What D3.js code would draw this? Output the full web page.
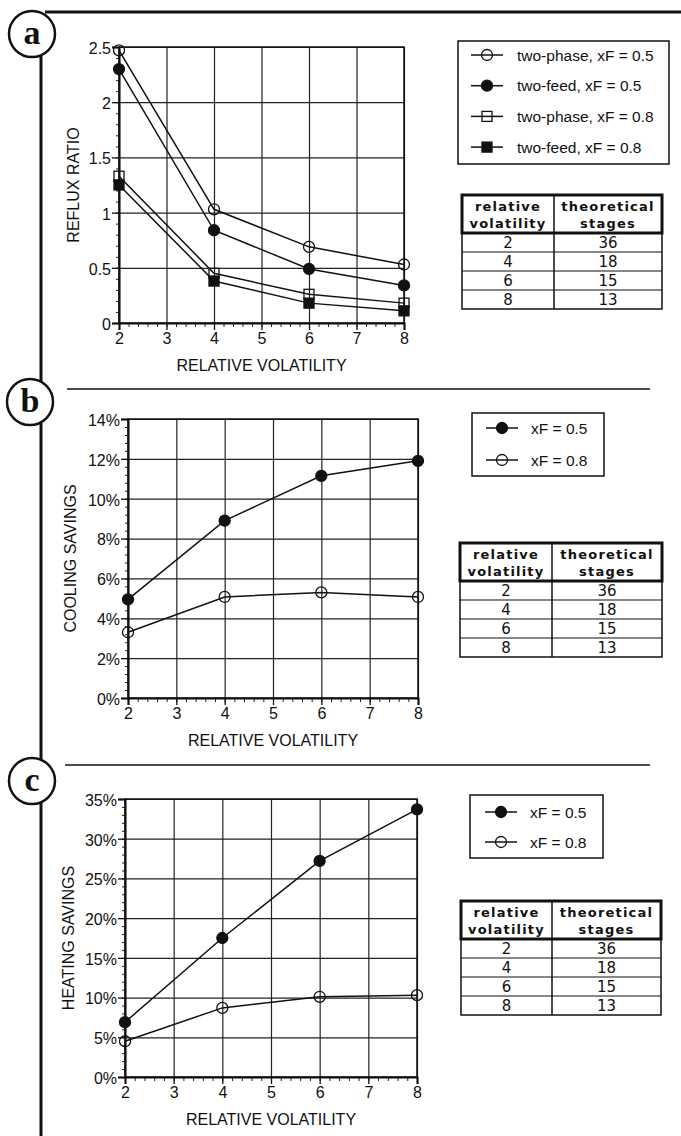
<!DOCTYPE html>
<html>
  <head>
    <style>
      body { margin: 0; background: #fff; }
      text { font-family: "Liberation Sans", Arial, sans-serif; fill: #111; }
      .tbl text { font-family: "DejaVu Sans", sans-serif; }
    </style>
    <script src="https://d3js.org/d3.v7.min.js"></script>
  </head>
  <body>
    <svg width="681" height="1136"></svg>
    <script>
      // data
      var volatility = [2, 4, 6, 8];
      var xTicks = [2, 3, 4, 5, 6, 7, 8];

      var refluxTwoPhase05 = [2.47, 1.03, 0.69, 0.53];
      var refluxTwoFeed05 = [2.3, 0.84, 0.49, 0.34];
      var refluxTwoPhase08 = [1.33, 0.45, 0.26, 0.18];
      var refluxTwoFeed08 = [1.25, 0.38, 0.18, 0.11];
      var refluxTicks = [0, 0.5, 1, 1.5, 2, 2.5];

      var coolingXF05 = [4.95, 8.9, 11.15, 11.9];
      var coolingXF08 = [3.3, 5.07, 5.3, 5.07];
      var coolingTicks = [0, 2, 4, 6, 8, 10, 12, 14];

      var heatingXF05 = [6.9, 17.5, 27.2, 33.7];
      var heatingXF08 = [4.5, 8.7, 10.1, 10.3];
      var heatingTicks = [0, 5, 10, 15, 20, 25, 30, 35];

      var tableVolatility = ["2", "4", "6", "8"];
      var tableStages = ["36", "18", "15", "13"];

      var svg = d3.select("svg");

      // frame lines and panel badges
      svg.append("line").attr("x1", 45).attr("x2", 681).attr("y1", 12).attr("y2", 12)
        .attr("stroke", "#111").attr("stroke-width", 3);
      svg.append("line").attr("x1", 41).attr("x2", 41).attr("y1", 55).attr("y2", 1136)
        .attr("stroke", "#111").attr("stroke-width", 3);
      svg.append("line").attr("x1", 67).attr("x2", 650).attr("y1", 389).attr("y2", 389)
        .attr("stroke", "#111").attr("stroke-width", 1.5);
      svg.append("line").attr("x1", 65).attr("x2", 650).attr("y1", 765).attr("y2", 765)
        .attr("stroke", "#111").attr("stroke-width", 1.5);

      [["a", 32, 34], ["b", 30, 402], ["c", 32, 781]].forEach(function (b) {
        svg.append("circle").attr("cx", b[1]).attr("cy", b[2]).attr("r", 23)
          .attr("fill", "#fff").attr("stroke", "#111").attr("stroke-width", 2.5);
        svg.append("text").attr("x", b[1]).attr("y", b[2] + 10).attr("text-anchor", "middle")
          .style("font-family", "'Liberation Serif', serif").style("font-weight", "bold")
          .style("font-size", "34px").text(b[0]);
      });

      function marker(g, kind, cx, cy) {
        var filled = kind == "dot" || kind == "square";
        if (kind == "dot" || kind == "ring") {
          g.append("circle").attr("cx", cx).attr("cy", cy).attr("r", 5.5)
            .attr("fill", filled ? "#111" : "none").attr("stroke", "#111").attr("stroke-width", 1.3);
        } else {
          g.append("rect").attr("x", cx - 5).attr("y", cy - 5).attr("width", 10).attr("height", 10)
            .attr("fill", filled ? "#111" : "none").attr("stroke", "#111").attr("stroke-width", 1.3);
        }
      }

      function panel(p) {
        var x = d3.scaleLinear().domain([2, 8]).range([p.left, p.right]);
        var y = d3.scaleLinear().domain([0, p.ticks[p.ticks.length - 1]]).range([p.bottom, p.top]);
        var g = svg.append("g");
        var h = p.bottom - p.top, w = p.right - p.left;

        // grid
        g.append("g").attr("transform", "translate(0," + p.bottom + ")")
          .call(d3.axisBottom(x).tickValues(xTicks).tickSize(-h).tickFormat(""))
          .call(function (s) { s.select(".domain").remove(); s.selectAll("line").attr("stroke", "#222").attr("stroke-width", 1.2); });
        g.append("g").attr("transform", "translate(" + p.left + ",0)")
          .call(d3.axisLeft(y).tickValues(p.ticks).tickSize(-w).tickFormat(""))
          .call(function (s) { s.select(".domain").remove(); s.selectAll("line").attr("stroke", "#222").attr("stroke-width", 1.2); });

        // minor ticks
        g.append("g").attr("transform", "translate(0," + p.bottom + ")")
          .call(d3.axisBottom(x).tickValues(d3.range(2, 8.01, 0.2)).tickSize(4).tickFormat(""))
          .call(function (s) { s.select(".domain").remove(); s.selectAll("line").attr("stroke", "#222"); });
        g.append("g").attr("transform", "translate(" + p.left + ",0)")
          .call(d3.axisLeft(y).tickValues(d3.range(0, y.domain()[1] + 1e-9, p.minor)).tickSize(3).tickFormat(""))
          .call(function (s) { s.select(".domain").remove(); s.selectAll("line").attr("stroke", "#222"); });

        // major axes with labels
        var xa = g.append("g").attr("transform", "translate(0," + p.bottom + ")")
          .call(d3.axisBottom(x).tickValues(xTicks).tickSize(7).tickPadding(3).tickFormat(d3.format("d")));
        var ya = g.append("g").attr("transform", "translate(" + p.left + ",0)")
          .call(d3.axisLeft(y).tickValues(p.ticks).tickSize(7).tickPadding(1).tickFormat(p.fmt));
        [xa, ya].forEach(function (a) {
          a.select(".domain").attr("stroke", "#111").attr("stroke-width", 2);
          a.selectAll("line").attr("stroke", "#111").attr("stroke-width", 1.3);
          a.selectAll("text").style("font-size", "16px").attr("fill", "#111");
        });
        ya.selectAll("text").attr("dy", "0.4em");

        g.append("rect").attr("x", p.left).attr("y", p.top).attr("width", w).attr("height", h)
          .attr("fill", "none").attr("stroke", "#111").attr("stroke-width", 1.5);

        g.append("text").attr("x", (p.left + p.right) / 2).attr("y", p.bottom + 48)
          .attr("text-anchor", "middle").style("font-size", "16px").text("RELATIVE VOLATILITY");
        g.append("text").attr("transform", "translate(" + p.ytx + "," + ((p.top + p.bottom) / 2) + ") rotate(-90)")
          .attr("text-anchor", "middle").style("font-size", "16px").text(p.ytitle);

        var line = d3.line().x(function (d, i) { return x(volatility[i]); }).y(function (d) { return y(d); });
        p.series.forEach(function (s) {
          g.append("path").datum(s.values).attr("d", line).attr("fill", "none")
            .attr("stroke", "#111").attr("stroke-width", 1.5);
          s.values.forEach(function (v, i) { marker(g, s.kind, x(volatility[i]), y(v)); });
        });

        // legend
        var lg = p.legend;
        g.append("rect").attr("x", lg.x).attr("y", lg.y).attr("width", lg.w).attr("height", lg.h)
          .attr("fill", "#fff").attr("stroke", "#111").attr("stroke-width", 1.5);
        p.series.forEach(function (s, i) {
          var ry = lg.y + lg.first + i * lg.step;
          g.append("line").attr("x1", lg.x + lg.mx - 16).attr("x2", lg.x + lg.mx + 16)
            .attr("y1", ry).attr("y2", ry).attr("stroke", "#111").attr("stroke-width", 1.5);
          marker(g, s.kind, lg.x + lg.mx, ry);
          g.append("text").attr("x", lg.x + lg.tx).attr("y", ry + 5.5).style("font-size", "15.5px").text(s.name);
        });

        // stages table
        var t = p.table, tg = g.append("g").attr("class", "tbl");
        var rowH = 19, headH = 38;
        var rows = tableVolatility.length;
        tg.append("rect").attr("x", t.x).attr("y", t.y).attr("width", t.w).attr("height", headH + rows * rowH)
          .attr("fill", "#fff").attr("stroke", "#111").attr("stroke-width", 1.5);
        tg.append("rect").attr("x", t.x).attr("y", t.y).attr("width", t.w).attr("height", headH)
          .attr("fill", "none").attr("stroke", "#111").attr("stroke-width", 3);
        tg.append("line").attr("x1", t.div).attr("x2", t.div).attr("y1", t.y).attr("y2", t.y + headH + rows * rowH)
          .attr("stroke", "#111").attr("stroke-width", 1.5);
        d3.range(1, rows).forEach(function (r) {
          tg.append("line").attr("x1", t.x).attr("x2", t.x + t.w)
            .attr("y1", t.y + headH + r * rowH).attr("y2", t.y + headH + r * rowH)
            .attr("stroke", "#111").attr("stroke-width", 1.2);
        });
        var c1 = (t.x + t.div) / 2, c2 = (t.div + t.x + t.w) / 2;
        [["relative", "volatility", c1], ["theoretical", "stages", c2]].forEach(function (hd) {
          tg.append("text").attr("x", hd[2]).attr("y", t.y + 16).attr("text-anchor", "middle")
            .style("font-size", "13px").style("font-weight", "bold").style("letter-spacing", "1.2px").text(hd[0]);
          tg.append("text").attr("x", hd[2]).attr("y", t.y + 33).attr("text-anchor", "middle")
            .style("font-size", "13px").style("font-weight", "bold").style("letter-spacing", "1.2px").text(hd[1]);
        });
        tableVolatility.forEach(function (v, r) {
          var ty = t.y + headH + r * rowH + 15;
          tg.append("text").attr("x", c1).attr("y", ty).attr("text-anchor", "middle").style("font-size", "15px").text(v);
          tg.append("text").attr("x", c2).attr("y", ty).attr("text-anchor", "middle").style("font-size", "15px").text(tableStages[r]);
        });
      }

      var pct = function (d) { return d + "%"; };

      panel({
        left: 119, right: 404, top: 47, bottom: 323, ticks: refluxTicks, minor: 0.1,
        fmt: function (d) { return String(d); }, ytitle: "REFLUX RATIO", ytx: 79,
        series: [
          { name: "two-phase, xF = 0.5", kind: "ring", values: refluxTwoPhase05 },
          { name: "two-feed, xF = 0.5", kind: "dot", values: refluxTwoFeed05 },
          { name: "two-phase, xF = 0.8", kind: "box", values: refluxTwoPhase08 },
          { name: "two-feed, xF = 0.8", kind: "square", values: refluxTwoFeed08 }
        ],
        legend: { x: 458, y: 41, w: 211, h: 123, first: 14, step: 30.7, mx: 29, tx: 59 },
        table: { x: 462, y: 195, w: 200, div: 554 }
      });

      panel({
        left: 128, right: 418, top: 419, bottom: 698, ticks: coolingTicks, minor: 0.4,
        fmt: pct, ytitle: "COOLING SAVINGS", ytx: 76,
        series: [
          { name: "xF = 0.5", kind: "dot", values: coolingXF05 },
          { name: "xF = 0.8", kind: "ring", values: coolingXF08 }
        ],
        legend: { x: 472, y: 413, w: 132, h: 63, first: 15, step: 32, mx: 30, tx: 59 },
        table: { x: 460, y: 543, w: 202, div: 552 }
      });

      panel({
        left: 125, right: 417, top: 799, bottom: 1077, ticks: heatingTicks, minor: 1,
        fmt: pct, ytitle: "HEATING SAVINGS", ytx: 74,
        series: [
          { name: "xF = 0.5", kind: "dot", values: heatingXF05 },
          { name: "xF = 0.8", kind: "ring", values: heatingXF08 }
        ],
        legend: { x: 470, y: 795, w: 133, h: 63, first: 17, step: 30, mx: 31, tx: 60 },
        table: { x: 461, y: 901, w: 200, div: 552 }
      });
    </script>
  </body>
</html>
